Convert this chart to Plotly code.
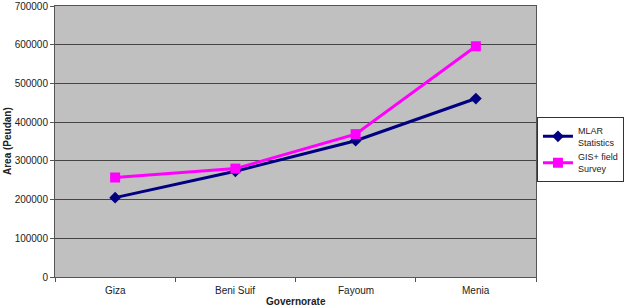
import plotly.graph_objects as go

categories = ["Giza", "Beni Suif", "Fayoum", "Menia"]
mlar = [205000, 273000, 352000, 461000]
gis = [257000, 280000, 369000, 596000]
y_ticks = [0, 100000, 200000, 300000, 400000, 500000, 600000, 700000]

fig = go.Figure()
fig.add_trace(go.Scatter(
    x=categories, y=mlar, name="MLAR<br>Statistics", mode="lines+markers",
    line=dict(color="#000080", width=3),
    marker=dict(symbol="diamond", size=9, color="#000080")))
fig.add_trace(go.Scatter(
    x=categories, y=gis, name="GIS+ field<br>Survey", mode="lines+markers",
    line=dict(color="#FF00FF", width=3),
    marker=dict(symbol="square", size=10, color="#FF00FF")))

font = dict(family="Liberation Sans, Arial, sans-serif", size=10, color="#222222")
fig.update_layout(
    width=643, height=307,
    margin=dict(l=55, r=107, t=6, b=30),
    paper_bgcolor="white", plot_bgcolor="#C0C0C0",
    font=font,
    showlegend=True,
    legend=dict(x=1.002, xanchor="left", y=0.47, yanchor="middle",
                bordercolor="#333333", borderwidth=1, bgcolor="white",
                font=dict(family="Liberation Sans, Arial, sans-serif", size=9, color="#222222"),
                itemwidth=30, tracegroupgap=0),
    xaxis=dict(showgrid=False, showline=True, linecolor="#555555", mirror=True,
               range=[-0.5, 3.5], automargin=False,
               ticks="outside", ticklen=4, tickcolor="#555555",
               tickvals=[-0.5, 0.5, 1.5, 2.5, 3.5], ticktext=["", "", "", "", ""]),
    yaxis=dict(range=[0, 700000], tickvals=y_ticks, ticktext=[str(v) for v in y_ticks],
               showgrid=True, gridcolor="#444444", gridwidth=1, automargin=False,
               ticklabeloverflow="allow",
               showline=True, linecolor="#555555", mirror=True,
               ticks="outside", ticklen=4, tickcolor="#555555", zeroline=False),
)
for c in categories:
    fig.add_annotation(text=c, x=c, xref="x", yref="paper", y=0, yshift=-6,
                       yanchor="top", showarrow=False, font=font)
fig.add_annotation(text="<b>Governorate</b>", xref="paper", yref="paper",
                   x=0.5, y=0, yshift=-17, yanchor="top", showarrow=False, font=font)
fig.add_annotation(text="<b>Area (Peudan)</b>", xref="paper", yref="paper",
                   x=-55/481, xanchor="left", y=0.5, yanchor="middle",
                   textangle=-90, showarrow=False, font=dict(size=10, color="#222222"))
fig.write_html("out.html")
